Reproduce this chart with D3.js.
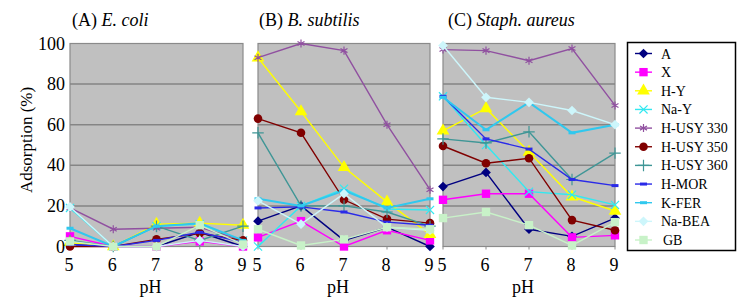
<!DOCTYPE html>
<html>
<head>
<meta charset="utf-8">
<script src="https://cdn.jsdelivr.net/npm/d3@7"></script>
<style>
  body { margin: 0; background: #fff; }
  text { font-family: "Liberation Serif", "Times New Roman", serif; fill: #000; }
</style>
</head>
<body>
<script>
const width = 741, height = 303;

const pH = ["5", "6", "7", "8", "9"];
const seriesNames = ["A", "X", "H-Y", "Na-Y", "H-USY 330", "H-USY 350", "H-USY 360", "H-MOR", "K-FER", "Na-BEA", "GB"];
const yTicks = [0, 20, 40, 60, 80, 100];

// rows follow seriesNames order
const ecoli = [
    [1, 0, 0, 7, 0],        // A
    [5, 0, 0, 2.5, 0],      // X
    [2, 0, 11, 11.5, 10.5], // H-Y
    [19, 0, 10, 11, 3],     // Na-Y
    [19, 8.5, 9, 9.5, 3],   // H-USY 330
    [0, 0, 3.5, 6.5, 3],    // H-USY 350
    [3, 0, 10, 3, 10],      // H-USY 360
    [1, 0, 3, 7, 2],        // H-MOR
    [9, 0, 10, 11.5, 3],    // K-FER
    [19.5, 0, 0, 3, 0],     // Na-BEA
    [2.5, 0, 0, 10.5, 1]    // GB
];
const subtilis = [
    [12.5, 20, 3, 9.5, 0],
    [4.5, 12.5, 0, 8, 3],
    [93, 66.5, 39, 22, 6],
    [0, 20, 28.5, 18.5, 18],
    [93, 100, 96.5, 60, 28],
    [63, 56, 23, 13.5, 11.5],
    [56, 20, 20, 17, 10],
    [19, 19.5, 17, 12, 10.5],
    [23.5, 20, 27.5, 19, 23.5],
    [22.5, 11, 26, 9.5, 8],
    [8.5, 0.5, 3.5, 9.5, 8.5]
];
const aureus = [
    [29.5, 36.5, 8.5, 5, 14],
    [23, 26, 26, 4.5, 5.5],
    [57, 68, 46.5, 24.5, 17.5],
    [74, 50, 27, 25.5, 20.5],
    [97, 96.5, 91.5, 97.5, 69.5],
    [49.5, 41, 43.5, 13, 8],
    [53, 51, 56.5, 33, 46],
    [74, 53, 48, 33, 30],
    [73.5, 57.5, 71, 56, 60],
    [99, 73.5, 71, 67, 60],
    [14, 17, 10.5, 0.5, 12]
];

const colors = ["#000080", "#ff00ff", "#ffff00", "#33e8f0", "#9050a0", "#800000", "#3f9696", "#2a2ae8", "#30c8ee", "#cdf6fb", "#c8f2c8"];
const markers = ["diamond", "square", "triangle", "times", "star", "circle", "plus", "dash", "dash", "diamond", "square"];

const panels = [
    { label: "(A) ", species: "E. coli", rows: ecoli, left: 70, right: 243, title: 72 },
    { label: "(B) ", species: "B. subtilis", rows: subtilis, left: 258, right: 430, title: 259 },
    { label: "(C) ", species: "Staph. aureus", rows: aureus, left: 443, right: 615, title: 448 }
];

const plotTop = 43.5, plotBottom = 246.5;
const y = d3.scaleLinear().domain([0, 100]).range([plotBottom, plotTop]);

const svg = d3.select("body").append("svg")
    .attr("width", width)
    .attr("height", height);

function drawMarker(g, kind, color, cx, cy) {
    if (kind === "circle") {
        g.append("circle").attr("cx", cx).attr("cy", cy).attr("r", 4.3).attr("fill", color);
    } else if (kind === "dash") {
        g.append("rect").attr("x", cx - 3.5).attr("y", cy - 1.5).attr("width", 7).attr("height", 3).attr("fill", color);
    } else if (kind === "times" || kind === "plus" || kind === "star") {
        const s = kind === "plus" ? d3.symbolPlus : (kind === "star" ? d3.symbolAsterisk : d3.symbolTimes);
        g.append("path")
            .attr("d", d3.symbol().type(s).size(45)())
            .attr("transform", `translate(${cx},${cy})`)
            .attr("fill", "none").attr("stroke", color).attr("stroke-width", 1.2);
    } else {
        const s = kind === "diamond" ? d3.symbolDiamond2 : (kind === "square" ? d3.symbolSquare : d3.symbolTriangle);
        const size = kind === "square" ? 70 : (kind === "triangle" ? 70 : 60);
        g.append("path")
            .attr("d", d3.symbol().type(s).size(size)())
            .attr("transform", `translate(${cx},${cy})`)
            .attr("fill", color);
    }
}

panels.forEach(p => {
    const x = d3.scalePoint().domain(pH).range([p.left, p.right]);
    const g = svg.append("g");

    g.append("rect")
        .attr("x", p.left).attr("y", plotTop)
        .attr("width", p.right - p.left).attr("height", plotBottom - plotTop)
        .attr("fill", "#c0c0c0")
        .attr("stroke", "#8a8a8a").attr("stroke-width", 1.2);

    g.selectAll(".grid")
        .data(yTicks.filter(t => t > 0 && t < 100))
        .enter().append("line")
        .attr("x1", p.left).attr("x2", p.right)
        .attr("y1", d => y(d)).attr("y2", d => y(d))
        .attr("stroke", "#858585").attr("stroke-width", 1.5);

    // bottom axis ticks + labels
    g.selectAll(".xt")
        .data(pH)
        .enter().append("line")
        .attr("x1", d => x(d)).attr("x2", d => x(d))
        .attr("y1", plotBottom).attr("y2", plotBottom + 3)
        .attr("stroke", "#8a8a8a");

    g.selectAll(".xl")
        .data(pH)
        .enter().append("text")
        .attr("x", d => x(d) - 1)
        .attr("y", 271)
        .attr("text-anchor", "middle")
        .attr("font-size", 18)
        .text(d => d);

    g.append("text")
        .attr("x", (p.left + p.right) / 2 - 6)
        .attr("y", 293)
        .attr("text-anchor", "middle")
        .attr("font-size", 18)
        .text("pH");

    const t = g.append("text")
        .attr("x", p.title).attr("y", 26)
        .attr("font-size", 18);
    t.append("tspan").text(p.label);
    t.append("tspan").attr("font-style", "italic").text(p.species);

    const line = d3.line().x((d, i) => x(pH[i])).y(d => y(d));

    p.rows.forEach((vals, si) => {
        const sg = g.append("g");
        sg.append("path")
            .attr("d", line(vals))
            .attr("fill", "none")
            .attr("stroke", colors[si])
            .attr("stroke-width", si === 8 ? 2 : 1.4);
        vals.forEach((v, i) => drawMarker(sg, markers[si], colors[si], x(pH[i]), y(v)));
    });
});

// y axis labels (only left panel)
svg.selectAll(".yl")
    .data(yTicks)
    .enter().append("text")
    .attr("x", 65)
    .attr("y", d => y(d) + 6)
    .attr("text-anchor", "end")
    .attr("font-size", 18)
    .text(d => d);

svg.append("text")
    .attr("transform", "translate(32,140) rotate(-90)")
    .attr("text-anchor", "middle")
    .attr("font-size", 17)
    .text("Adsorption (%)");

// legend
const legend = svg.append("g");
legend.append("rect")
    .attr("x", 627.5).attr("y", 42.5)
    .attr("width", 108).attr("height", 208)
    .attr("fill", "#fff")
    .attr("stroke", "#000").attr("stroke-width", 1.5);

seriesNames.forEach((name, i) => {
    const cy = 53.5 + i * 18.65;
    legend.append("line")
        .attr("x1", 635).attr("x2", 652)
        .attr("y1", cy).attr("y2", cy)
        .attr("stroke", colors[i]).attr("stroke-width", 1.4);
    drawMarker(legend, markers[i], colors[i], 643.5, cy);
    legend.append("text")
        .attr("x", name === "GB" ? 663 : 661)
        .attr("y", cy + 5)
        .attr("font-size", 14)
        .text(name);
});
</script>
</body>
</html>
